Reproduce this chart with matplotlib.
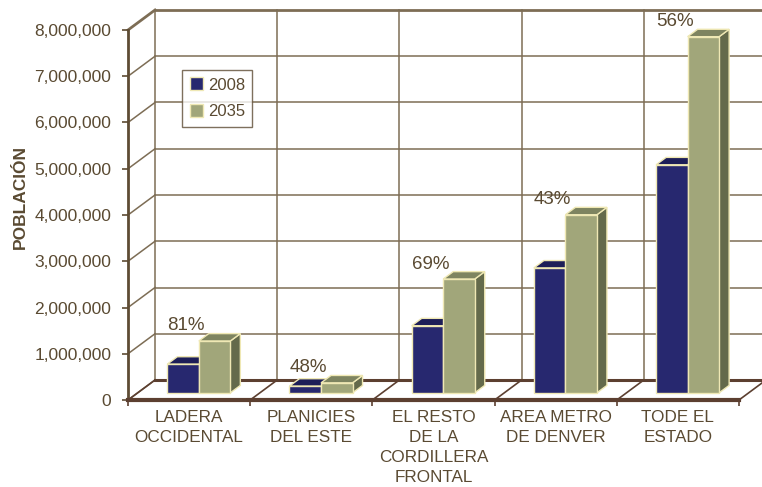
import matplotlib
matplotlib.use("Agg")
import matplotlib.pyplot as plt
from matplotlib.patches import Polygon, Patch
from matplotlib.transforms import offset_copy
from matplotlib.ticker import FuncFormatter

# ---- data ----
categories = ["LADERA\nOCCIDENTAL", "PLANICIES\nDEL ESTE", "EL RESTO\nDE LA\nCORDILLERA\nFRONTAL",
              "AREA METRO\nDE DENVER", "TODE EL\nESTADO"]
pop_2008 = [620000, 145000, 1450000, 2700000, 4930000]
pop_2035 = [1120000, 215000, 2460000, 3850000, 7700000]
growth_labels = ["81%", "48%", "69%", "43%", "56%"]
series_names = ["2008", "2035"]
yticks = [0, 1000000, 2000000, 3000000, 4000000, 5000000, 6000000, 7000000, 8000000]

# ---- style ----
plt.rcParams['font.family'] = ['Liberation Sans', 'DejaVu Sans']
txt_col = "#5a4a32"
grid_col = "#7d6d55"
wall_col = "#5e4c34"
floor_col = "#5c3f30"
blue_front, blue_top = "#27286f", "#1d1e58"
green_front, green_top, green_side = "#a1a67a", "#7e8460", "#646a4b"
edge_col = "#efe8b4"

W, H = 762, 487
fig = plt.figure(figsize=(W / 100, H / 100), dpi=100)
ax = fig.add_axes([128 / W, 87 / H, 611 / W, 370 / H])
ymax = yticks[-1]
n = len(categories)
ax.set_xlim(0, n)
ax.set_ylim(0, ymax)

# depth offsets (data units)
dx = 0.221
dy = ymax * 20 / 370

# back wall gridlines
for v in yticks:
    lw = 2.0 if v == ymax else 1.1
    ax.plot([dx, n + dx], [v + dy, v + dy], color=grid_col, lw=lw, clip_on=False, zorder=1)
    ax.plot([0, dx], [v, v + dy], color=grid_col, lw=lw, clip_on=False, zorder=1)
for k in range(n + 1):
    ax.plot([k + dx, k + dx], [dy, ymax + dy], color=grid_col, lw=1.1, clip_on=False, zorder=1)

# floor
ax.plot([dx, n + dx], [dy, dy], color=floor_col, lw=2.2, clip_on=False, zorder=2)
for k in range(n + 1):
    ax.plot([k, k + dx], [0, dy], color=floor_col, lw=1.2, clip_on=False, zorder=2)

# bars (pseudo 3D)
f = 0.36
bw = 0.258
bdx = 0.37 * dx
bdy = 0.37 * dy


def bar3d(x0, x1, base, top, cf, ct, cs, z):
    front = Polygon([(x0, base), (x1, base), (x1, top), (x0, top)], closed=True,
                    facecolor=cf, edgecolor=edge_col, lw=1, zorder=z, clip_on=False)
    topf = Polygon([(x0, top), (x1, top), (x1 + bdx, top + bdy), (x0 + bdx, top + bdy)], closed=True,
                   facecolor=ct, edgecolor=edge_col, lw=1, zorder=z, clip_on=False)
    side = Polygon([(x1, base), (x1 + bdx, base + bdy), (x1 + bdx, top + bdy), (x1, top)], closed=True,
                   facecolor=cs, edgecolor=edge_col, lw=1, zorder=z, clip_on=False)
    for p in (side, topf, front):
        ax.add_patch(p)


for i in range(n):
    c = i + 0.5 + f * dx
    base = f * dy
    bar3d(c - bw, c, base, base + pop_2008[i], blue_front, blue_top, blue_front, 5)
    bar3d(c, c + bw, base, base + pop_2035[i], green_front, green_top, green_side, 6)
    tr = offset_copy(ax.transData, fig=fig, x=-3, y=15, units='dots')
    ax.text(i + 0.5, base + pop_2035[i], growth_labels[i], transform=tr, ha='center', va='center',
            fontsize=13.5, color=txt_col, zorder=8)

# axes, ticks
for s in ["top", "right"]:
    ax.spines[s].set_visible(False)
ax.spines["left"].set_color(wall_col)
ax.spines["left"].set_linewidth(2)
ax.spines["bottom"].set_color(floor_col)
ax.spines["bottom"].set_linewidth(3)
ax.spines["left"].set_zorder(3)
ax.spines["bottom"].set_zorder(3)

ax.set_yticks(yticks)
ax.yaxis.set_major_formatter(FuncFormatter(lambda v, p: f"{int(v):,}"))
ax.tick_params(axis='y', direction='out', length=4, width=1.2, color=wall_col, labelsize=12.5,
               labelcolor=txt_col, pad=8)
ax.set_xticks([i + 0.5 for i in range(n)])
ax.set_xticklabels(categories, linespacing=1.42)
ax.set_xticks(list(range(n + 1)), minor=True)
ax.tick_params(axis='x', which='major', length=0, labelsize=12.3, labelcolor=txt_col, pad=7)
ax.tick_params(axis='x', which='minor', direction='out', length=4, width=1.2, color=floor_col)

fig.text(20 / W, 1 - 197 / H, "POBLACIÓN", rotation=90, ha='center', va='center',
         fontsize=12.5, fontweight='bold', color=txt_col)

handles = [Patch(facecolor=blue_front, edgecolor=edge_col), Patch(facecolor=green_front, edgecolor=edge_col)]
leg = ax.legend(handles, series_names, loc='upper left', bbox_to_anchor=((182 - 128) / 611, (400 - 70) / 370),
                borderaxespad=0, fontsize=12, frameon=True, fancybox=False, handlelength=0.8,
                handleheight=0.8, handletextpad=0.3, labelspacing=0.7, borderpad=0.45, labelcolor=txt_col)
leg.get_frame().set_edgecolor(wall_col)
leg.get_frame().set_linewidth(1)
leg.set_zorder(10)

fig.savefig("out.png", dpi=100)
